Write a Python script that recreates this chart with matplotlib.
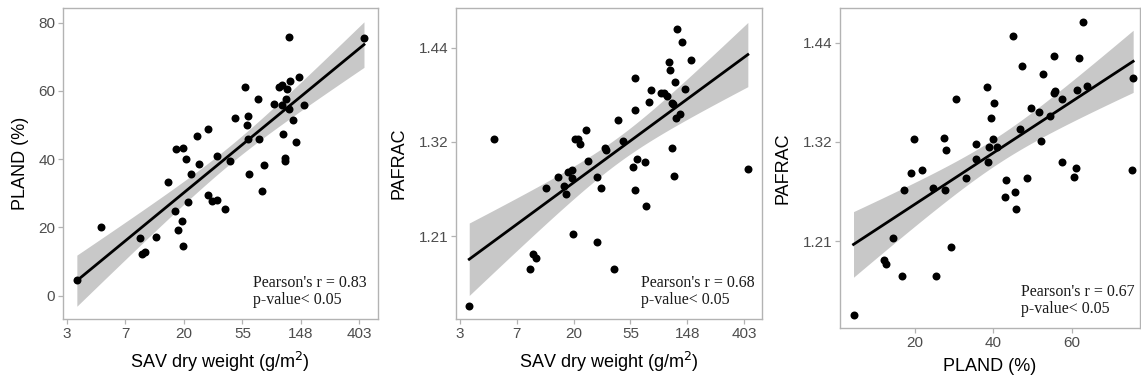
import numpy as np
import matplotlib
matplotlib.use("Agg")
import matplotlib.pyplot as plt
from matplotlib.ticker import FixedLocator, FixedFormatter, NullLocator

plt.rcParams['font.family'] = ['Liberation Sans', 'DejaVu Sans']

# panel 1: SAV dry weight (g/m2) vs PLAND (%)
sav_a = [3.22, 4.90, 9.49, 9.78, 10.38, 12.43, 15.33, 17.12, 17.64, 18.17,
         19.49, 19.69, 19.89, 20.70, 21.54, 22.65, 25.03, 26.05, 30.27, 30.57,
         32.46, 35.16, 35.52, 40.85, 43.82, 47.94, 56.83, 59.15, 59.74, 59.74,
         61.56, 70.81, 72.96, 75.94, 79.04, 93.69, 101.49, 106.70, 106.70, 108.85,
         113.30, 113.30, 114.43, 117.92, 121.51, 121.51, 122.73, 130.32, 135.64, 142.59,
         157.59, 437.0]
pland_a = [4.6, 20.0, 16.8, 12.1, 12.7, 17.2, 33.2, 24.9, 43.0, 19.2,
           22.0, 43.2, 14.5, 40.0, 27.5, 35.8, 46.9, 38.6, 48.8, 29.5,
           27.8, 28.1, 40.9, 25.4, 39.5, 52.2, 61.2, 50.0, 52.8, 45.9,
           35.6, 57.5, 45.8, 30.7, 38.4, 56.1, 61.2, 61.7, 55.9, 47.5,
           40.4, 39.5, 57.7, 60.7, 54.7, 75.7, 62.9, 51.6, 44.9, 64.1,
           55.8, 75.4]

# panel 2: SAV dry weight (g/m2) vs PAFRAC
sav_b = [3.22, 4.95, 9.39, 9.78, 10.38, 12.43, 15.18, 17.12, 17.64, 18.17,
         19.49, 19.69, 19.89, 20.70, 21.54, 22.65, 25.03, 26.05, 30.27, 30.27,
         32.46, 35.16, 35.52, 40.85, 43.82, 47.47, 56.83, 59.15, 59.15, 59.15,
         60.95, 70.11, 72.24, 75.19, 78.26, 92.76, 98.49, 103.54, 107.77, 108.85,
         113.30, 113.30, 114.43, 116.75, 120.30, 121.51, 122.73, 130.32, 135.64, 141.17,
         157.59, 428.38]
pafrac_b = [1.1346, 1.3230, 1.1733, 1.1900, 1.1853, 1.2645, 1.2782, 1.2676, 1.2575, 1.2837,
            1.2865, 1.2762, 1.2126, 1.3230, 1.3230, 1.3173, 1.3345, 1.2964, 1.2782, 1.2037,
            1.2645, 1.3129, 1.3104, 1.1733, 1.3473, 1.3206, 1.2900, 1.4006, 1.3598, 1.2629,
            1.2988, 1.2956, 1.2444, 1.3699, 1.3843, 1.3805, 1.3805, 1.3771, 1.4211, 1.4106,
            1.3686, 1.3125, 1.3665, 1.2790, 1.3955, 1.3490, 1.4650, 1.3544, 1.4476, 1.3856,
            1.4232, 1.2873]

# panel 3: PLAND (%) vs PAFRAC
pland_c = [4.3, 12.0, 12.6, 14.3, 16.8, 17.1, 19.1, 19.8, 21.9, 24.7,
           25.3, 27.4, 27.6, 27.9, 29.3, 30.5, 33.1, 35.5, 35.7, 38.4,
           38.6, 39.0, 39.4, 39.8, 40.1, 40.9, 43.1, 43.2, 44.9, 45.6,
           45.7, 46.8, 47.3, 48.6, 49.7, 51.6, 52.1, 52.8, 54.5, 55.5,
           55.6, 55.7, 57.6, 57.5, 60.5, 61.1, 61.3, 61.8, 62.8, 64.0,
           75.7, 75.5]
pafrac_c = [1.1343, 1.1903, 1.1855, 1.2132, 1.1734, 1.2650, 1.2840, 1.3233, 1.2874, 1.2680,
            1.1734, 1.3241, 1.2650, 1.3106, 1.2036, 1.3701, 1.2784, 1.2999, 1.3171, 1.3847,
            1.2965, 1.3136, 1.3479, 1.3229, 1.3661, 1.3144, 1.2573, 1.2765, 1.4484, 1.2635,
            1.2448, 1.3353, 1.4108, 1.2784, 1.3602, 1.3546, 1.3213, 1.4009, 1.3499, 1.4232,
            1.3774, 1.3806, 1.3701, 1.2965, 1.2795, 1.2904, 1.3814, 1.4212, 1.4659, 1.3863,
            1.3956, 1.2878]

sav_ticks = [3, 7, 20, 55, 148, 403]
pafrac_ticks = [1.21, 1.32, 1.44]
pland_ticks = [20, 40, 60]
stats = ["Pearson's r = 0.83\np-value< 0.05",
         "Pearson's r = 0.68\np-value< 0.05",
         "Pearson's r = 0.67\np-value< 0.05"]

GRAY = '#4d4d4d'
FRAME = '#b3b3b3'
T95 = 2.009


def fit_band(x, y):
    # linear fit with 95% confidence band of the mean
    x = np.asarray(x, float)
    y = np.asarray(y, float)
    n = len(x)
    b, a = np.polyfit(x, y, 1)
    res = y - (a + b * x)
    s = np.sqrt(np.sum(res ** 2) / (n - 2))
    sxx = np.sum((x - x.mean()) ** 2)
    xs = np.linspace(x.min(), x.max(), 100)
    ys = a + b * xs
    se = s * np.sqrt(1.0 / n + (xs - x.mean()) ** 2 / sxx)
    return xs, ys, ys - T95 * se, ys + T95 * se


def draw(ax, x, y, logx, logy, txt):
    tx = np.log(x) if logx else np.asarray(x, float)
    ty = np.log(y) if logy else np.asarray(y, float)
    xs, ys, lo, hi = fit_band(tx, ty)
    fx = np.exp if logx else (lambda v: v)
    fy = np.exp if logy else (lambda v: v)
    ax.fill_between(fx(xs), fy(lo), fy(hi), color='#c8c8c8', lw=0, zorder=1)
    ax.plot(fx(xs), fy(ys), color='black', lw=2.0, zorder=2)
    ax.scatter(x, y, s=33, color='black', lw=0, zorder=3)
    for sp in ax.spines.values():
        sp.set_color(FRAME)
        sp.set_linewidth(1.0)
    ax.tick_params(direction='out', length=3.5, width=0.9, color=FRAME,
                   labelcolor=GRAY, labelsize=11, pad=2)
    ax.text(0.605, 0.035, txt, transform=ax.transAxes, ha='left', va='bottom',
            family='Liberation Serif', fontsize=11.5, color='#1a1a1a', linespacing=1.1)


def sav_axis(ax):
    ax.set_xscale('log')
    ax.xaxis.set_major_locator(FixedLocator(np.exp(np.arange(1, 7))))
    ax.xaxis.set_major_formatter(FixedFormatter([str(t) for t in sav_ticks]))
    ax.xaxis.set_minor_locator(NullLocator())
    ax.set_xlim(np.exp(0.932), np.exp(6.314))
    ax.set_xlabel('SAV dry weight (g/m$^2$)', fontsize=13, labelpad=7)


def pafrac_axis(ax, lo, hi):
    ax.set_yscale('log')
    ax.yaxis.set_major_locator(FixedLocator(pafrac_ticks))
    ax.yaxis.set_major_formatter(FixedFormatter([f'{t:.2f}' for t in pafrac_ticks]))
    ax.yaxis.set_minor_locator(NullLocator())
    ax.set_ylim(lo, hi)
    ax.set_ylabel('PAFRAC', fontsize=13, labelpad=8)


fig = plt.figure(figsize=(11.41, 3.81), dpi=100)
ax1 = fig.add_axes([0.0552, 0.1627, 0.2758, 0.8163])
ax2 = fig.add_axes([0.3994, 0.1627, 0.2687, 0.8163])
ax3 = fig.add_axes([0.7362, 0.1391, 0.2629, 0.8400])

draw(ax1, sav_a, pland_a, True, False, stats[0])
sav_axis(ax1)
ax1.set_ylim(-6.83, 84.3)
ax1.set_yticks([0, 20, 40, 60, 80])
ax1.set_ylabel('PLAND (%)', fontsize=13, labelpad=7)

draw(ax2, sav_b, pafrac_b, True, True, stats[1])
sav_axis(ax2)
pafrac_axis(ax2, 1.1207, 1.4938)

draw(ax3, pland_c, pafrac_c, False, True, stats[2])
ax3.set_xlim(0.85, 77.44)
ax3.set_xticks(pland_ticks)
ax3.set_xlabel('PLAND (%)', fontsize=13, labelpad=6)
pafrac_axis(ax3, 1.1211, 1.4846)

fig.savefig('out.png', dpi=100)
